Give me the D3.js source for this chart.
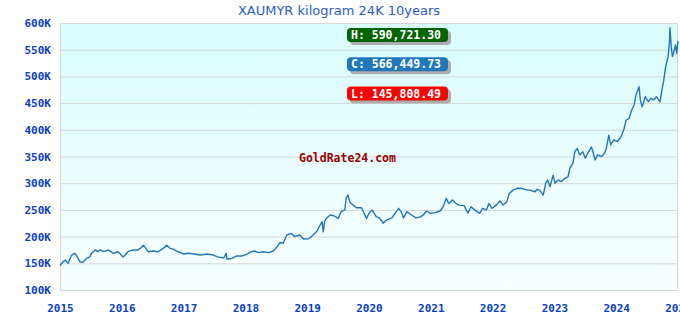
<!DOCTYPE html>
<html>
<head>
<meta charset="utf-8">
<script src="https://cdn.jsdelivr.net/npm/d3@7"></script>
<style>
  body { margin: 0; background: #ffffff; }
</style>
</head>
<body>
<script>
// XAUMYR kilogram 24K, 10 years
const dates = [
  2015.00, 2015.03, 2015.05, 2015.09, 2015.13, 2015.16, 2015.19, 2015.24, 2015.28, 2015.32,
  2015.37, 2015.43, 2015.48, 2015.51, 2015.57, 2015.61, 2015.65, 2015.71, 2015.78, 2015.82,
  2015.86, 2015.94, 2016.02, 2016.06, 2016.10, 2016.18, 2016.26, 2016.30, 2016.35, 2016.39,
  2016.43, 2016.51, 2016.59, 2016.67, 2016.73, 2016.78, 2016.83, 2016.89, 2017.00, 2017.08,
  2017.16, 2017.27, 2017.38, 2017.48, 2017.55, 2017.65, 2017.69, 2017.70, 2017.78, 2017.86,
  2017.94, 2018.02, 2018.10, 2018.15, 2018.21, 2018.29, 2018.37, 2018.45, 2018.50, 2018.56,
  2018.61, 2018.67, 2018.74, 2018.80, 2018.88, 2018.94, 2019.02, 2019.07, 2019.15, 2019.21,
  2019.24, 2019.26, 2019.28, 2019.31, 2019.37, 2019.43, 2019.50, 2019.55, 2019.61, 2019.63,
  2019.66, 2019.69, 2019.74, 2019.80, 2019.88, 2019.96, 2020.00, 2020.05, 2020.12, 2020.17,
  2020.23, 2020.28, 2020.37, 2020.42, 2020.48, 2020.52, 2020.56, 2020.61, 2020.69, 2020.76,
  2020.83, 2020.88, 2020.93, 2020.99, 2021.07, 2021.15, 2021.20, 2021.25, 2021.29, 2021.35,
  2021.41, 2021.46, 2021.54, 2021.60, 2021.65, 2021.71, 2021.79, 2021.84, 2021.90, 2021.94,
  2021.99, 2022.06, 2022.12, 2022.17, 2022.23, 2022.27, 2022.33, 2022.41, 2022.50, 2022.56,
  2022.60, 2022.69, 2022.72, 2022.76, 2022.82, 2022.86, 2022.89, 2022.93, 2022.98, 2023.01,
  2023.06, 2023.11, 2023.17, 2023.22, 2023.25, 2023.30, 2023.33, 2023.37, 2023.41, 2023.46,
  2023.50, 2023.54, 2023.60, 2023.63, 2023.66, 2023.70, 2023.76, 2023.81, 2023.84, 2023.88,
  2023.91, 2023.96, 2024.02, 2024.08, 2024.13, 2024.16, 2024.21, 2024.25, 2024.29, 2024.32,
  2024.37, 2024.39, 2024.42, 2024.47, 2024.52, 2024.56, 2024.61, 2024.65, 2024.71, 2024.74,
  2024.77, 2024.80, 2024.84, 2024.86, 2024.87, 2024.89, 2024.91, 2024.94, 2024.96, 2024.98,
  2025.00
];

const prices = [
  145808, 150000, 153000, 156000, 150000, 158000, 165500, 168700, 162000, 153000,
  152000, 159000, 162000, 168700, 175000, 172000, 175000, 171700, 175000, 172000,
  168700, 171700, 162000, 166000, 171700, 175000, 175000, 178000, 184000, 178000,
  171700, 173000, 171700, 178000, 184000, 178000, 176600, 173000, 167400, 168700,
  167400, 165500, 167400, 165500, 162000, 160000, 168700, 158000, 159000, 163700,
  163700, 166800, 171700, 173000, 170000, 171700, 170000, 173000, 179000, 189000,
  187500, 203000, 206000, 200000, 203000, 195500, 196000, 200000, 209000, 221700,
  228000, 209000, 228000, 234000, 240500, 239000, 234000, 246700, 250000, 271700,
  278000, 265000, 259000, 254000, 254000, 234000, 243600, 250000, 237000, 235000,
  225000, 231000, 235000, 243600, 253000, 246700, 235000, 246700, 240500, 235000,
  237000, 240500, 248000, 243600, 245000, 248000, 256000, 271700, 262000, 268600,
  262000, 259000, 258000, 243600, 256000, 250000, 243600, 253000, 250000, 262000,
  253000, 259000, 266700, 259000, 265000, 281000, 287000, 290500, 289500, 287000,
  287000, 284000, 288600, 287000, 278000, 300000, 306000, 293500, 315000, 300000,
  306000, 303000, 309000, 312000, 328000, 337000, 359000, 365000, 353000, 359000,
  346700, 356000, 368000, 356000, 343500, 353000, 349700, 356000, 365000, 390000,
  371600, 381000, 378000, 387000, 403000, 418000, 421600, 437000, 446500, 465000,
  480800, 456000, 443000, 462000, 452700, 459000, 456000, 462000, 452700, 474600,
  493500, 518000, 537000, 562000, 590721, 556000, 537000, 549500, 559000, 543000,
  566450
];

const yearTicks = [2015, 2016, 2017, 2018, 2019, 2020, 2021, 2022, 2023, 2024, 2025];
const priceTicks = [100000, 150000, 200000, 250000, 300000, 350000, 400000, 450000, 500000, 550000, 600000];

const badgeLabels = ["H: 590,721.30", "C: 566,449.73", "L: 145,808.49"];
const badgeColors = ["#006400", "#2277bb", "#ff0000"];

const width = 680;
const height = 320;
const margin = { top: 23, right: 2, bottom: 30, left: 60 };
const innerW = width - margin.left - margin.right;
const innerH = height - margin.top - margin.bottom;

const mono = "'DejaVu Sans Mono', monospace";
const axisBlue = "#0a3ec8";

const svg = d3.create("svg")
  .attr("width", width)
  .attr("height", height)
  .style("background-color", "#ffffff");

const defs = svg.append("defs");
const grad = defs.append("linearGradient")
  .attr("id", "bg")
  .attr("x1", 0).attr("y1", 0)
  .attr("x2", 0).attr("y2", 1);
grad.append("stop").attr("offset", "0%").attr("stop-color", "#d9fcfc");
grad.append("stop").attr("offset", "100%").attr("stop-color", "#f8ffff");

const g = svg.append("g")
  .attr("transform", `translate(${margin.left},${margin.top})`);

const x = d3.scaleLinear()
  .domain([2015, 2025])
  .range([0, innerW]);

const y = d3.scaleLinear()
  .domain([100000, 600000])
  .range([innerH, 0]);

g.append("rect")
  .attr("width", innerW)
  .attr("height", innerH)
  .attr("fill", "url(#bg)");

// horizontal grid + y labels
g.append("g")
  .call(d3.axisLeft(y)
    .tickValues(priceTicks)
    .tickSize(-innerW)
    .tickPadding(9)
    .tickFormat(d => d / 1000 + "K"))
  .call(sel => sel.select(".domain").remove())
  .call(sel => sel.selectAll("line").attr("stroke", "#d6d6d6"))
  .call(sel => sel.selectAll("text")
    .attr("fill", axisBlue)
    .style("font-family", mono)
    .style("font-size", "11px")
    .style("font-weight", "bold"));

g.append("g")
  .attr("transform", `translate(0,${innerH})`)
  .call(d3.axisBottom(x)
    .tickValues(yearTicks)
    .tickSize(0)
    .tickPadding(14)
    .tickFormat(d3.format("d")))
  .call(sel => sel.select(".domain").remove())
  .call(sel => sel.selectAll("text")
    .attr("fill", axisBlue)
    .style("font-family", mono)
    .style("font-size", "11px")
    .style("font-weight", "bold"));

// plot frame
g.append("rect")
  .attr("x", 0.5)
  .attr("y", 0.5)
  .attr("width", innerW - 1)
  .attr("height", innerH)
  .attr("fill", "none")
  .attr("stroke", "#d6d6d6");

svg.append("text")
  .attr("x", 339)
  .attr("y", 15)
  .attr("text-anchor", "middle")
  .attr("fill", "#2a5ccc")
  .style("font-family", "'DejaVu Sans', Verdana, sans-serif")
  .style("font-size", "13px")
  .text("XAUMYR kilogram 24K 10years");

// watermark
g.append("text")
  .attr("x", 299 - margin.left)
  .attr("y", 158 - margin.top)
  .attr("dominant-baseline", "middle")
  .attr("fill", "#990000")
  .style("font-family", mono)
  .style("font-size", "11.5px")
  .style("font-weight", "bold")
  .text("GoldRate24.com");

const series = dates.map((d, i) => ({ t: d, v: prices[i] }));

const line = d3.line()
  .x(d => x(d.t))
  .y(d => y(d.v));

g.append("path")
  .datum(series)
  .attr("fill", "none")
  .attr("stroke", "#2277bb")
  .attr("stroke-width", 1.4)
  .attr("stroke-linejoin", "round")
  .attr("d", line);

// H / C / L badges
const badges = g.append("g")
  .attr("transform", `translate(${347 - margin.left},${28 - margin.top})`);

badgeLabels.forEach((label, i) => {
  const b = badges.append("g").attr("transform", `translate(0,${i * 29.3})`);
  b.append("rect")
    .attr("x", 3).attr("y", 3)
    .attr("width", 101).attr("height", 14)
    .attr("rx", 4)
    .attr("fill", "#adadad");
  b.append("rect")
    .attr("width", 101).attr("height", 14)
    .attr("rx", 4)
    .attr("fill", badgeColors[i]);
  b.append("text")
    .attr("x", 4)
    .attr("y", 7.5)
    .attr("dominant-baseline", "middle")
    .attr("fill", "#ffffff")
    .style("font-family", mono)
    .style("font-size", "11.5px")
    .style("font-weight", "bold")
    .text(label);
});

document.body.appendChild(svg.node());
</script>
</body>
</html>
